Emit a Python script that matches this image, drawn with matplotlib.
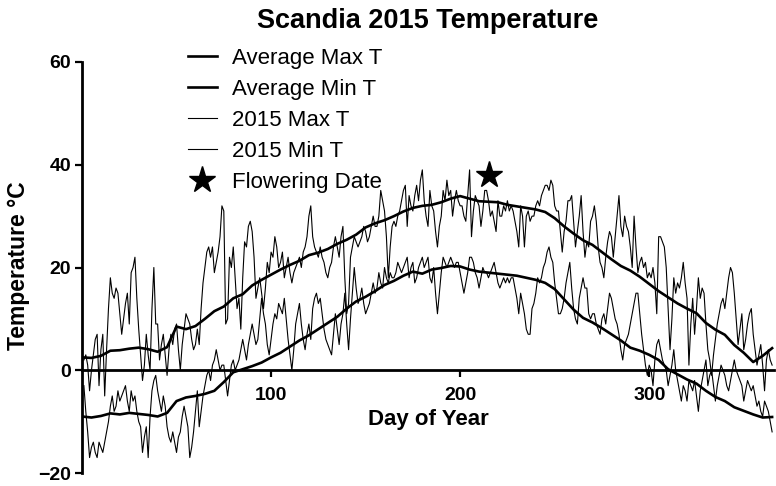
import numpy as np
import matplotlib
matplotlib.use("Agg")
import matplotlib.pyplot as plt
from matplotlib.lines import Line2D

plt.rcParams['font.family'] = ['Liberation Sans', 'DejaVu Sans']

# Daily 2015 values (day 1..365)
max_2015 = [
    2, 3, 1, -4, 0, 3, 6, 7, -3, 4,
    7, -5, 4, 12, 18, 15, 14, 16, 15, 11,
    7, 10, 13, 15, 9, 19, 20, 22, 14, 8,
    3, -2, 1, 7, 3, 0, 12, 20, 9, 9,
    2, 5, 7, 3, -1, 4, 7, 5, 8, 9,
    4, 0, 5, 8, 11, 10, 9, 6, 4, 5,
    8, 5, 12, 17, 20, 23, 24, 22, 24, 19,
    21, 23, 26, 32, 31, 9, 10, 22, 20, 24,
    18, 12, 14, 8, 18, 25, 24, 28, 29, 27,
    22, 14, 16, 18, 15, 12, 16, 21, 19, 23,
    22, 26, 24, 20, 21, 23, 18, 20, 22, 19,
    17, 19, 20, 21, 22, 20, 23, 24, 26, 30,
    32, 26, 24, 23, 22, 24, 22, 21, 19, 18,
    20, 21, 24, 26, 24, 22, 26, 28, 18, 11,
    13, 22, 24, 26, 25, 24, 25, 26, 28, 27,
    25, 26, 28, 30, 28, 28, 30, 35, 33, 31,
    26, 18, 24, 28, 29, 28, 30, 31, 33, 35,
    36, 28, 34, 32, 31, 34, 36, 33, 37, 39,
    33, 30, 28, 35, 32, 31, 27, 24, 28, 30,
    35, 33, 37, 34, 35, 30, 33, 35, 33, 32,
    32, 30, 29, 34, 39, 26, 31, 34, 33, 32,
    28, 31, 35, 35, 33, 30, 31, 29, 27, 33,
    30, 30, 32, 31, 33, 31, 32, 31, 29, 27,
    24, 32, 30, 24, 30, 31, 29, 30, 30, 32,
    33, 32, 34, 35, 36, 36, 35, 37, 36, 32,
    31, 31, 27, 23, 27, 29, 33, 33, 34, 29,
    24, 27, 30, 34, 27, 22, 25, 24, 29, 30,
    32, 29, 24, 21, 20, 18, 22, 25, 27, 26,
    22, 26, 30, 34, 28, 26, 30, 28, 27, 24,
    20, 30, 24, 19, 21, 22, 20, 21, 18, 19,
    18, 20, 17, 11, 26, 26, 25, 24, 20, 12,
    4, 10, 18, 15, 17, 16, 18, 21, 17, 14,
    1, 9, 14, 7, 12, 18, 14, 16, 15, 9,
    4, 2, -1, 3, 6, 9, 11, 13, 14, 12,
    15, 18, 20, 19, 15, 10, 5, 8, 11, 4,
    6, 9, 11, 12, 7, 4, 1, 3, 5, 1,
    -4, 2, 4, 2, 1,
]

min_2015 = [
    -3, -8, -12, -17, -15, -14, -16, -17, -14, -15,
    -16, -14, -12, -10, -7, -5, -8, -7, -4, -6,
    -5, -4, -3, -6, -8, -4, -6, -5, -8, -10,
    -11, -16, -13, -11, -17, -9, -4, -2, -1, -4,
    -6, -8, -5, -7, -11, -13, -14, -12, -14, -16,
    -13, -12, -9, -7, -9, -11, -17, -15, -12, -8,
    -4, -11, -8, -5, -3, -1, 0, -2, 1, 2,
    4, 2, 0, 1, 1, -2, -5, -2, 1, 2,
    0, 1, 2, 4, 6, 4, 2, 5, 7, 9,
    7, 5, 6, 10, 14, 11, 9, 5, 3, 6,
    9, 11, 10, 13, 12, 11, 14, 10, 6, 3,
    0, 4, 9, 11, 13, 9, 6, 4, 7, 9,
    6, 12, 14, 15, 13, 14, 11, 8, 6, 5,
    4, 3, 7, 11, 8, 5, 9, 11, 15, 9,
    4, 10, 15, 20, 16, 13, 14, 16, 13, 11,
    12, 13, 15, 17, 15, 16, 19, 17, 16, 20,
    18, 17, 19, 18, 18, 19, 21, 20, 19, 20,
    21, 22, 18, 20, 21, 17, 18, 20, 21, 22,
    20, 21, 22, 18, 17, 20, 15, 11, 15, 19,
    22, 21, 20, 21, 22, 21, 20, 21, 21, 19,
    17, 15, 17, 19, 22, 22, 21, 19, 18, 16,
    18, 20, 19, 19, 18, 19, 20, 21, 19, 17,
    16, 17, 18, 17, 18, 17, 18, 18, 16, 14,
    11, 15, 13, 11, 8, 7, 7, 12, 13, 15,
    18, 17, 18, 20, 21, 23, 24, 22, 21, 17,
    14, 11, 11, 12, 14, 17, 19, 21, 16, 12,
    10, 9, 14, 16, 18, 16, 16, 11, 10, 11,
    11, 9, 8, 7, 10, 11, 9, 12, 15, 14,
    12, 10, 9, 7, 4, 2, 5, 6, 7, 9,
    11, 13, 15, 15, 11, 7, 4, 1, -1, 1,
    0, -3, 2, 5, 6, 4, 2, 1, 0, -3,
    -1, 1, 4, 0, -2, -4, -6, -3, -4, -6,
    -2, -3, -4, -2, -5, -8, -4, -2, 0, 2,
    -3, -1, 0, -3, -6, -3, -1, 1, 0, -1,
    -3, -4, -2, 0, 2, 0, -1, -2, -3, -6,
    -4, -2, -3, -4, -3, -5, -7, -6, -8, -9,
    -6, -7, -8, -10, -12,
]

# Long-term averages, every 5 days (day 0..365)
avg_max = [
    2.5, 2.4, 2.8, 3.8, 3.9, 4.2, 4.4, 4.1, 3.6, 4.5,
    8.5, 8.0, 8.6, 10.0, 11.5, 12.4, 14.0, 14.8, 16.5, 17.6,
    18.6, 19.6, 20.5, 21.3, 22.4, 22.9, 23.6, 24.6, 25.4, 26.4,
    27.8, 28.6, 29.2, 30.0, 30.9, 31.6, 32.0, 32.2, 32.7, 33.4,
    33.9, 33.4, 32.9, 32.8, 32.7, 32.2, 31.9, 31.6, 31.3, 30.8,
    29.6, 28.0, 26.6, 25.3, 24.4, 23.0, 21.6, 20.3, 19.4, 18.2,
    16.8, 15.4, 14.2, 13.0, 12.0, 11.1, 9.2, 7.9, 6.9, 4.9,
    3.4, 1.6, 2.8, 4.3,
]
avg_min = [
    -9.0, -9.2, -8.9, -8.4, -8.6, -8.3, -8.5, -8.7, -9.0, -8.3,
    -6.0, -5.3, -5.0, -4.6, -4.0, -2.3, -0.4, 0.2, 0.8, 1.5,
    2.5, 3.4, 4.6, 5.8, 6.8, 8.0, 9.2, 10.4, 12.0, 13.4,
    14.3, 15.4, 16.6, 17.4, 18.4, 19.2, 18.8, 19.6, 19.9, 20.3,
    20.2, 19.6, 19.2, 19.0, 18.8, 18.6, 18.4, 18.0, 17.6, 17.0,
    15.8, 13.8, 11.8, 10.2, 9.3, 8.2, 7.0, 5.8, 4.4, 3.8,
    3.0, 2.0, 0.2, -0.8, -1.8, -2.6, -4.0, -5.2, -6.0, -7.2,
    -7.9, -8.6, -9.2, -9.1,
]

flower_day = 215
flower_temp = 38

days = np.arange(1, len(max_2015) + 1)
avg_days = np.arange(0, 366, 5)

W, H = 776, 486
fig = plt.figure(figsize=(W / 100, H / 100), dpi=100)
ax = fig.add_axes([82 / W, 13 / H, (774 - 82) / W, (473 - 62) / H])

ax.plot(days, max_2015, color='black', lw=0.8)
ax.plot(days, min_2015, color='black', lw=0.8)
ax.plot(avg_days, avg_max, color='black', lw=1.9)
ax.plot(avg_days, avg_min, color='black', lw=1.9)
ax.plot([flower_day], [flower_temp], marker='*', color='black', ms=20, ls='none')

ax.set_xlim(0, 366)
ax.set_ylim(-20, 60)
ax.spines['top'].set_visible(False)
ax.spines['right'].set_visible(False)
ax.spines['bottom'].set_position(('data', 0))
ax.spines['left'].set_linewidth(2)
ax.spines['bottom'].set_linewidth(2)

ax.set_yticks([-20, 0, 20, 40, 60])
ax.set_xticks([100, 200, 300])
ax.tick_params(axis='both', direction='out', length=5, width=1.6, labelsize=14)
ax.tick_params(axis='x', pad=7)
ax.tick_params(axis='y', pad=3)
for lab in ax.get_xticklabels() + ax.get_yticklabels():
    lab.set_fontweight('bold')

fig.text(428 / W, 1 - 21 / H, 'Scandia 2015 Temperature', ha='center', va='center',
         fontsize=19.5, fontweight='bold')
fig.text(428 / W, 1 - 419 / H, 'Day of Year', ha='center', va='center',
         fontsize=16, fontweight='bold')
fig.text(19 / W, 1 - 266 / H, 'Temperature °C', ha='center', va='center',
         rotation=90, fontsize=16.5, fontweight='bold')

star = Line2D([], [], marker='*', color='black', ms=20, ls='none')
h_avg_max = Line2D([], [], color='black', lw=1.9)
h_avg_min = Line2D([], [], color='black', lw=1.9)
h_max = Line2D([], [], color='black', lw=0.8)
h_min = Line2D([], [], color='black', lw=0.8)
ax.legend([h_avg_max, h_avg_min, h_max, h_min, star],
          ['Average Max T', 'Average Min T', '2015 Max T', '2015 Min T', 'Flowering Date'],
          loc='upper left', bbox_to_anchor=(188 / W, 1 - 48 / H),
          bbox_transform=fig.transFigure, frameon=False, fontsize=16,
          handlelength=1.3, handletextpad=0.7, labelspacing=0.45,
          borderpad=0, borderaxespad=0)

fig.savefig('out.png', dpi=100)
